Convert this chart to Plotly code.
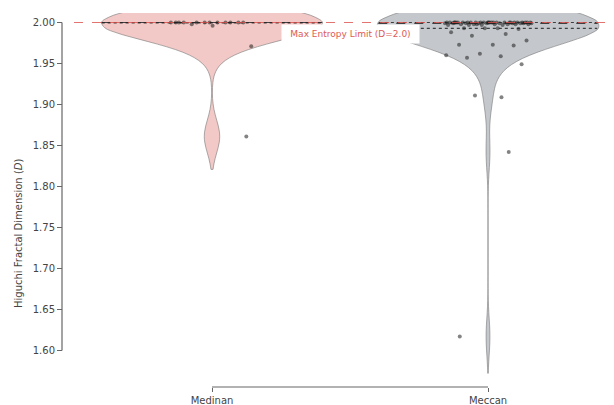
import numpy as np
import plotly.graph_objects as go

# Higuchi fractal dimension per surah, grouped by revelation period
categories = ["Medinan", "Meccan"]

medinan_hfd = [
    2.000, 2.000, 2.000, 2.000, 2.000, 1.971, 2.000, 2.000,
    2.000, 2.000, 2.000, 2.000, 1.998, 1.861, 1.996, 2.000,
]

meccan_hfd = [
    2.000, 2.000, 1.617, 2.000, 2.000, 2.000, 1.909, 2.000,
    2.000, 2.000, 2.000, 2.000, 2.000, 2.000, 2.000, 2.000,
    2.000, 2.000, 2.000, 2.000, 2.000, 2.000, 2.000, 2.000,
    1.999, 1.999, 1.999, 1.999, 1.999, 1.999, 1.999, 1.999,
    1.998, 1.998, 1.998, 1.998, 1.998, 1.998, 1.997, 1.997,
    1.997, 1.997, 1.999, 2.000, 2.000, 2.000, 1.998, 1.999,
    1.993, 1.993, 1.992, 1.993,
    1.988, 1.986, 1.984, 1.978, 1.973, 1.973, 1.972, 1.962,
    1.960, 1.959, 1.957, 1.949, 2.000, 2.000, 1.842, 1.911,
]

series = [medinan_hfd, meccan_hfd]
fills = ["#F2C9C6", "#C4C7CB"]

y_ticks = [1.60, 1.65, 1.70, 1.75, 1.80, 1.85, 1.90, 1.95, 2.00]
max_entropy = 2.0

VIOLIN_WIDTH = 0.8
STRIP_SPREAD = 0.16   # half-range of horizontal strip jitter (category units)
W, H = 614, 405


def scott_bw(v):
    v = np.asarray(v, dtype=float)
    return np.std(v, ddof=1) * len(v) ** (-1 / 5)


def kde_halfwidth(v, bw, at):
    """Half-width of a width-scaled violin at the given values."""
    v = np.asarray(v, dtype=float)
    grid = np.linspace(v.min() - 2 * bw, v.max() + 2 * bw, 2000)
    dens = lambda t: np.exp(-0.5 * ((np.asarray(t)[:, None] - v[None, :]) / bw) ** 2).sum(axis=1)
    peak = dens(grid).max()
    return dens(np.atleast_1d(at)) / peak * VIOLIN_WIDTH / 2


def strip_offsets(n, seed_shift):
    """Deterministic low-discrepancy horizontal jitter in [-STRIP_SPREAD, STRIP_SPREAD]."""
    k = np.arange(n) + seed_shift
    return ((k * 0.6180339887) % 1.0 - 0.5) * 2 * STRIP_SPREAD


fig = go.Figure()

for i, (name, vals) in enumerate(zip(categories, series)):
    bw = scott_bw(vals)
    fig.add_trace(go.Violin(
        x=[i] * len(vals), y=vals, name=name,
        width=VIOLIN_WIDTH, scalemode="width", bandwidth=bw, spanmode="soft",
        fillcolor=fills[i], line=dict(color="rgba(120,120,120,0.6)", width=1),
        opacity=1, points=False,
        box_visible=False, meanline_visible=False, showlegend=False,
        hoverinfo="skip",
    ))

    # inner quartile lines
    qs = np.percentile(vals, [25, 50, 75])
    hws = kde_halfwidth(vals, bw, qs)
    for q, hw, dash in zip(qs, hws, ["dot", "dash", "dot"]):
        fig.add_trace(go.Scatter(
            x=[i - hw, i + hw], y=[q, q], mode="lines",
            line=dict(color="rgba(40,40,40,0.85)", width=1.2, dash=dash),
            showlegend=False, hoverinfo="skip",
        ))

# strip of individual surahs over each violin
for i, vals in enumerate(series):
    xs = i + strip_offsets(len(vals), 3 + 5 * i)
    fig.add_trace(go.Scatter(
        x=xs, y=vals, mode="markers",
        marker=dict(size=4, color="rgba(30,30,30,0.55)", line=dict(width=0)),
        showlegend=False, hoverinfo="skip",
    ))

# plot-area geometry (pixels)
left_px, plot_top, plot_bot = 74, 13, 378
yspine_px, xspine_px = 62, 387

fig.update_layout(
    width=W, height=H,
    margin=dict(l=0, r=0, t=0, b=0),
    paper_bgcolor="white", plot_bgcolor="white",
    font=dict(family="DejaVu Sans", size=10, color="#444"),
    xaxis=dict(
        domain=[left_px / W, 1], range=[-0.5, 1.4565],
        tickvals=[0, 1], ticktext=categories,
        anchor="free", position=(H - xspine_px) / H,
        ticks="outside", ticklen=4, tickwidth=1.2, tickcolor="#666",
        showline=False, showgrid=False, zeroline=False,
        tickfont=dict(size=10, color="#444"),
    ),
    yaxis=dict(
        domain=[(H - plot_bot) / H, (H - plot_top) / H],
        range=[1.5665, 2.0116],
        tickvals=y_ticks, ticktext=[f"{t:.2f}" for t in y_ticks],
        anchor="free", position=yspine_px / W,
        ticks="outside", ticklen=5, tickwidth=1.2, tickcolor="#666",
        showline=False, showgrid=False, zeroline=False,
        tickfont=dict(size=10, color="#444"),
    ),
)

# trimmed spines
fig.add_shape(type="line", xref="paper", yref="y",
              x0=yspine_px / W, x1=yspine_px / W, y0=y_ticks[0], y1=y_ticks[-1],
              line=dict(color="#666", width=1.2))
fig.add_shape(type="line", xref="x", yref="paper",
              x0=0, x1=1, y0=(H - xspine_px) / H, y1=(H - xspine_px) / H,
              line=dict(color="#666", width=1.2))

# theoretical maximum
fig.add_shape(type="line", xref="x domain", yref="y",
              x0=0, x1=1, y0=max_entropy, y1=max_entropy, layer="above",
              line=dict(color="rgba(220,80,75,0.8)", width=1.2, dash="dash"))
fig.add_annotation(x=0.5, y=max_entropy, xref="x", yref="y",
                   text="Max Entropy Limit (D=2.0)", showarrow=False,
                   yanchor="top", xanchor="center", yshift=-1,
                   width=135, height=16, bgcolor="white",
                   font=dict(size=9, color="#de5a55"))

fig.add_annotation(x=19 / W, y=(H - 234) / H, xref="paper", yref="paper",
                   xanchor="center", yanchor="middle",
                   text="Higuchi Fractal Dimension (<i>D</i>)", textangle=-90,
                   showarrow=False, font=dict(size=10, color="#444"))

fig.write_html("out.html")
